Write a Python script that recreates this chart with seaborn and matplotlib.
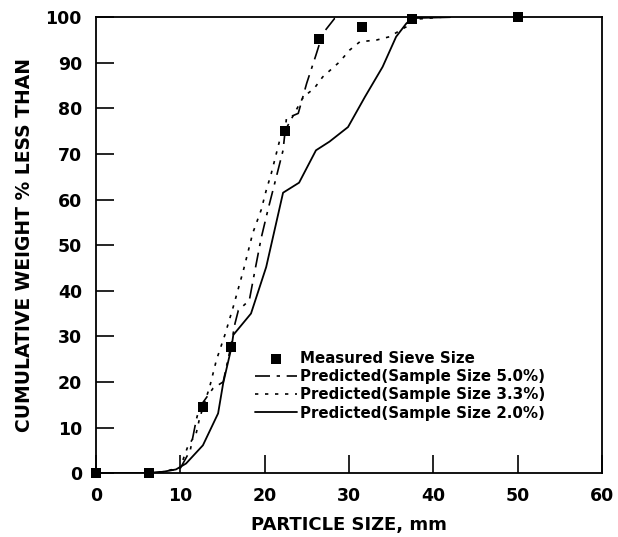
import numpy as np
import pandas as pd
import matplotlib
matplotlib.use("Agg")
import matplotlib.pyplot as plt
import seaborn as sns

# measured sieve sizes (mm) and cumulative % passing
sieve_x = [0.0, 6.3, 12.7, 16.0, 22.4, 26.5, 31.5, 37.5, 50.0]
sieve_y = [0.0, 0.0, 14.5, 27.7, 75.0, 95.2, 97.9, 99.5, 100.0]

# predicted, sample size 5.0%
x5 = [6.3, 8.0, 10.0, 11.2, 11.9, 12.3, 12.9, 13.9, 15.1, 16.0, 16.5, 16.9,
      18.2, 18.8, 19.6, 20.4, 21.2, 22.2, 22.6, 24.0, 25.0, 26.1, 26.9, 28.3, 29.0]
y5 = [0.0, 0.3, 1.0, 5.0, 11.6, 14.5, 16.0, 18.6, 20.0, 27.7, 32.8, 35.7,
      37.9, 43.8, 51.5, 57.7, 63.5, 70.8, 77.8, 78.9, 85.5, 91.7, 96.4, 99.7, 100.0]

# predicted, sample size 3.3%
x3 = [6.3, 8.0, 10.0, 10.9, 11.9, 12.3, 13.5, 14.3, 15.3, 16.3, 17.5, 18.6,
      19.6, 20.2, 20.8, 21.8, 22.4, 24.6, 25.9, 26.9, 28.9, 30.1, 31.3, 33.3,
      34.8, 36.8, 37.5, 41.0]
y3 = [0.0, 0.3, 1.2, 5.8, 8.7, 12.0, 18.9, 24.8, 30.3, 36.5, 44.5, 52.6,
      57.7, 62.0, 65.7, 73.0, 75.0, 82.5, 84.4, 86.9, 90.2, 92.8, 94.6, 95.0,
      95.7, 97.9, 99.5, 100.0]

# predicted, sample size 2.0%
x2 = [6.3, 8.0, 9.5, 10.7, 12.7, 14.5, 15.1, 16.1, 16.3, 18.4, 20.2, 22.2,
      24.1, 26.1, 27.7, 29.9, 31.9, 34.0, 35.6, 36.8, 37.5, 42.0]
y2 = [0.0, 0.3, 0.8, 2.1, 6.1, 13.1, 19.7, 27.7, 30.3, 35.0, 45.2, 61.5,
      63.7, 70.8, 72.7, 75.9, 82.5, 89.1, 95.7, 98.6, 99.8, 100.0]

labels = ["Measured Sieve Size",
          "Predicted(Sample Size 5.0%)",
          "Predicted(Sample Size 3.3%)",
          "Predicted(Sample Size 2.0%)"]

sns.set_style("ticks", {"axes.edgecolor": "black", "text.color": "black",
                        "xtick.color": "black", "ytick.color": "black",
                        "axes.labelcolor": "black"})
plt.rcParams["font.family"] = ["DejaVu Sans"]
plt.rcParams["font.weight"] = "bold"

fig = plt.figure(figsize=(6.18, 5.37), dpi=100)
ax = fig.add_axes([0.155, 0.119, 0.819, 0.849])

sns.lineplot(x=x5, y=y5, ax=ax, color="black", lw=1.2, sort=False,
             estimator=None, label=labels[1])
sns.lineplot(x=x3, y=y3, ax=ax, color="black", lw=1.2, sort=False,
             estimator=None, label=labels[2])
sns.lineplot(x=x2, y=y2, ax=ax, color="black", lw=1.3, sort=False,
             estimator=None, label=labels[3])
ax.lines[0].set_dashes([9, 4, 2, 4])
ax.lines[1].set_dashes([2, 4])
sns.scatterplot(x=sieve_x, y=sieve_y, ax=ax, marker="s", s=60,
                color="black", edgecolor="black", linewidth=0, zorder=5,
                clip_on=False, label=labels[0])
# measured line along the baseline between first two points
ax.plot(sieve_x[:2], sieve_y[:2], color="black", lw=1.3)

ax.set_xlim(0, 60)
ax.set_ylim(0, 100)
ax.set_xticks(range(0, 61, 10))
ax.set_yticks(range(0, 101, 10))
ax.tick_params(direction="in", length=13, width=1.2, labelsize=12.5, pad=10,
               colors="black")
for lab in ax.get_xticklabels() + ax.get_yticklabels():
    lab.set_fontweight("bold")
for sp in ax.spines.values():
    sp.set_linewidth(1.3)
    sp.set_color("black")
    sp.set_visible(True)

ax.set_xlabel("PARTICLE SIZE, mm", fontsize=13, fontweight="bold",
              labelpad=8, color="black")
ax.set_ylabel("CUMULATIVE WEIGHT % LESS THAN", fontsize=13.5,
              fontweight="bold", labelpad=8, color="black")

h, l = ax.get_legend_handles_labels()
order = [l.index(t) for t in labels]
leg = ax.legend([h[i] for i in order], [l[i] for i in order], loc="upper left",
                bbox_to_anchor=(0.3, 0.285), frameon=False,
                handlelength=2.8, handletextpad=0.2, labelspacing=0.22,
                borderpad=0, prop={"weight": "bold", "size": 10.8})
for t in leg.get_texts():
    t.set_color("black")

fig.savefig("out.png", dpi=100)
